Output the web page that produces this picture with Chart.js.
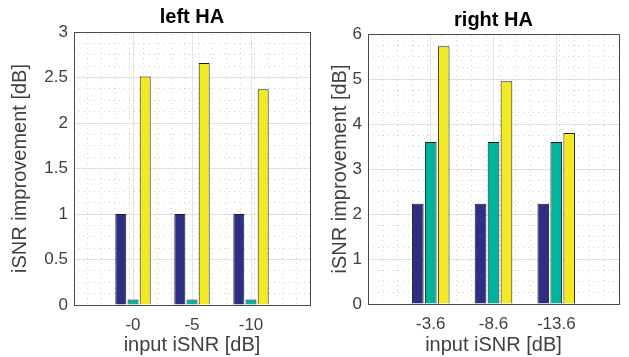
<!DOCTYPE html>
<html>
<head>
<meta charset="utf-8">
<script src="https://cdn.jsdelivr.net/npm/chart.js@4/dist/chart.umd.min.js"></script>
<style>
  body { margin: 0; background: #fff; }
  #wrap { position: relative; width: 629px; height: 357px; }
  canvas { position: absolute; top: 0; }
  #leftHA { left: 0; }
  #rightHA { left: 320px; }
</style>
</head>
<body>
<div id="wrap">
  <canvas id="leftHA" width="320" height="357"></canvas>
  <canvas id="rightHA" width="309" height="357"></canvas>
</div>
<script>
// left HA
const leftCats = ['-0', '-5', '-10'];
const leftBlue = [1, 1, 1];
const leftTeal = [0.06, 0.06, 0.06];
const leftYellow = [2.51, 2.66, 2.37];

// right HA
const rightCats = ['-3.6', '-8.6', '-13.6'];
const rightBlue = [2.23, 2.23, 2.23];
const rightTeal = [3.6, 3.6, 3.6];
const rightYellow = [5.73, 4.95, 3.80];

const barColors = ['#2d2e84', '#00b39b', '#f1ea24'];
const fam = '"Liberation Sans", Arial, sans-serif';
const txtGrey = '#404040';

function makeChart(id, title, cats, series, yMax, yStep, yMinor, box) {
    const xMax = cats.length + 1;
    return new Chart(document.getElementById(id), {
        type: 'bar',
        data: {
            datasets: series.map((vals, k) => ({
                data: vals.map((v, i) => ({ x: i + 1, y: v })),
                backgroundColor: barColors[k],
                borderColor: '#1e1e1e',
                borderWidth: 1,
                categoryPercentage: 0.62,
                barPercentage: 0.9
            }))
        },
        options: {
            responsive: false,
            animation: false,
            layout: { padding: { left: 0, right: box.right, top: 0, bottom: 0 } },
            plugins: {
                legend: { display: false },
                tooltip: { enabled: false },
                title: {
                    display: true,
                    fullSize: false,
                    text: title,
                    color: '#000',
                    font: { family: fam, size: 20, weight: 'bold' },
                    padding: { top: box.titleTop, bottom: box.titleBottom }
                }
            },
            scales: {
                x: {
                    type: 'linear', position: 'bottom', min: 0, max: xMax, offset: false,
                    grid: { offset: false, color: '#e4e4e4', drawTicks: false },
                    border: { color: '#4a4a4a' },
                    ticks: {
                        stepSize: 1, autoSkip: false, maxRotation: 0, padding: 10,
                        color: txtGrey, font: { family: fam, size: 17 },
                        callback: v => cats[v - 1] || ''
                    },
                    title: { display: true, text: 'input iSNR [dB]', color: txtGrey, font: { family: fam, size: 20 }, padding: 0 },
                    afterFit: s => { s.height = box.xHeight; }
                },
                xm: {
                    type: 'linear', position: 'top', min: 0, max: xMax,
                    grid: { color: '#d2d2d2', drawTicks: false },
                    border: { color: '#4a4a4a', dash: [1, 4] },
                    ticks: { display: false, stepSize: 0.25, maxTicksLimit: 100 },
                    afterFit: s => { s.height = 0; }
                },
                y: {
                    min: 0, max: yMax,
                    grid: { color: '#e4e4e4', drawTicks: false },
                    border: { color: '#4a4a4a' },
                    ticks: {
                        stepSize: yStep, padding: 6, color: txtGrey, font: { family: fam, size: 17 },
                        callback: v => String(v)
                    },
                    title: { display: true, text: 'iSNR improvement [dB]', color: txtGrey, font: { family: fam, size: 20 }, padding: { top: 8, bottom: 0 } },
                    afterFit: s => { s.width = box.yWidth; }
                },
                ym: {
                    type: 'linear', position: 'right', min: 0, max: yMax,
                    grid: { color: '#d2d2d2', drawTicks: false },
                    border: { color: '#4a4a4a', dash: [1, 4] },
                    ticks: { display: false, stepSize: yMinor, maxTicksLimit: 100 },
                    afterFit: s => { s.width = 0; }
                }
            }
        }
    });
}

makeChart('leftHA', 'left HA', leftCats, [leftBlue, leftTeal, leftYellow], 3, 0.5, 0.125,
    { right: 4, titleTop: 5, titleBottom: 3, xHeight: 52, yWidth: 74 });
makeChart('rightHA', 'right HA', rightCats, [rightBlue, rightTeal, rightYellow], 6, 1, 0.25,
    { right: 5, titleTop: 8, titleBottom: 2, xHeight: 53, yWidth: 48 });
</script>
</body>
</html>
